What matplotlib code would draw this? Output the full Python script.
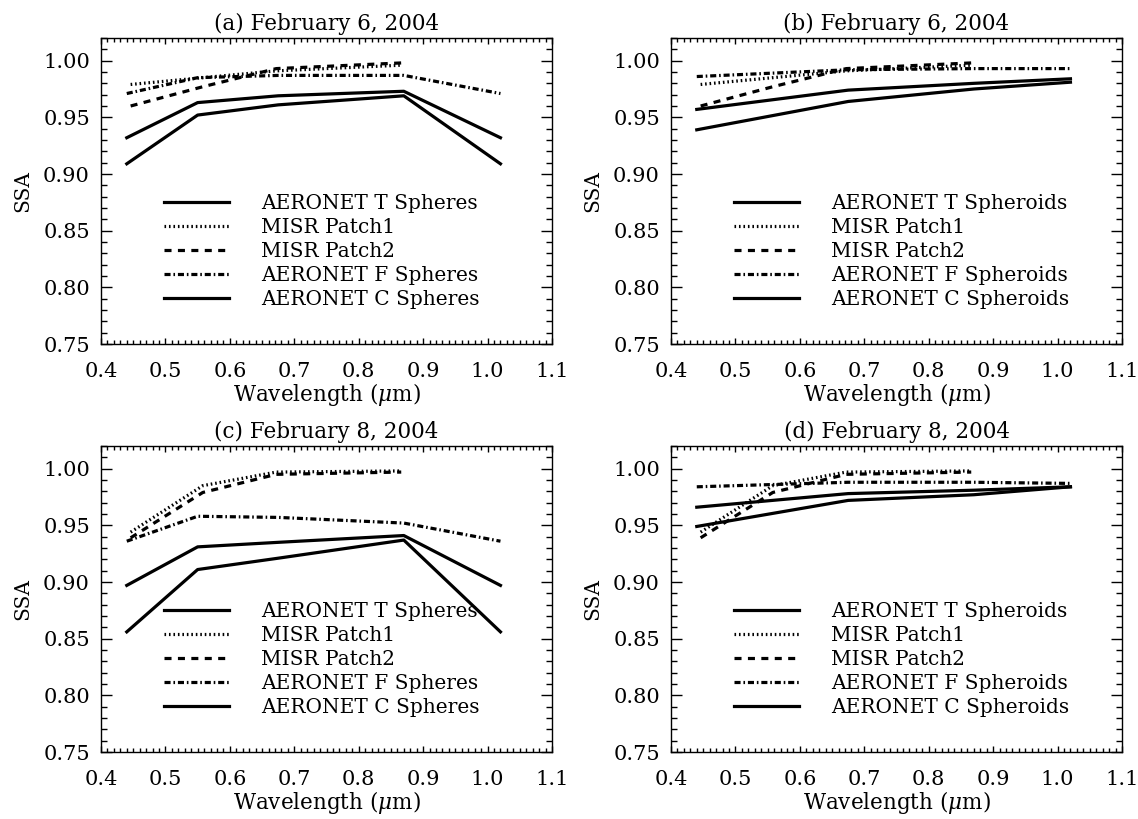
import matplotlib
matplotlib.use("Agg")
import matplotlib.pyplot as plt
from matplotlib.ticker import MultipleLocator

# wavelengths (um)
wl_misr = [0.446, 0.558, 0.672, 0.866]
wl_sph = [0.44, 0.55, 0.675, 0.87, 1.02]
wl_spd = [0.44, 0.675, 0.87, 1.02]

# February 6, 2004
p1_feb6 = [0.979, 0.985, 0.991, 0.996]
p2_feb6 = [0.960, 0.977, 0.993, 0.998]
t_sph_feb6 = [0.932, 0.963, 0.969, 0.973, 0.932]
f_sph_feb6 = [0.971, 0.985, 0.987, 0.987, 0.971]
c_sph_feb6 = [0.909, 0.952, 0.961, 0.969, 0.909]
t_spd_feb6 = [0.957, 0.974, 0.980, 0.984]
f_spd_feb6 = [0.986, 0.992, 0.993, 0.993]
c_spd_feb6 = [0.939, 0.964, 0.975, 0.981]

# February 8, 2004
p1_feb8 = [0.944, 0.985, 0.997, 0.998]
p2_feb8 = [0.939, 0.979, 0.995, 0.997]
t_sph_feb8 = [0.897, 0.931, 0.935, 0.941, 0.897]
f_sph_feb8 = [0.936, 0.958, 0.957, 0.952, 0.936]
c_sph_feb8 = [0.856, 0.911, 0.921, 0.937, 0.856]
t_spd_feb8 = [0.966, 0.978, 0.981, 0.984]
f_spd_feb8 = [0.984, 0.988, 0.988, 0.987]
c_spd_feb8 = [0.949, 0.972, 0.977, 0.984]

titles = ["(a) February 6, 2004", "(b) February 6, 2004",
          "(c) February 8, 2004", "(d) February 8, 2004"]

plt.rcParams['font.family'] = 'DejaVu Serif'
plt.rcParams['mathtext.fontset'] = 'dejavuserif'
FS = 14.5
plt.rcParams['font.size'] = FS

LW = 2.3
DOT = (0, (0.5, 0.9))
DASH = (0, (2.2, 2.0))
DASHDOT = (0, (1.9, 0.9, 0.5, 0.9))


def panel(fig, rect, title, wl_a, t, f, c, p1, p2, kind):
    ax = fig.add_axes(rect)
    lt, = ax.plot(wl_a, t, color='black', lw=LW, ls='-')
    l1, = ax.plot(wl_misr, p1, color='black', lw=LW, ls=DOT)
    l2, = ax.plot(wl_misr, p2, color='black', lw=LW, ls=DASH)
    lf, = ax.plot(wl_a, f, color='black', lw=LW, ls=DASHDOT)
    lc, = ax.plot(wl_a, c, color='black', lw=LW, ls='-')
    labels = ["AERONET T " + kind, "MISR Patch1", "MISR Patch2",
              "AERONET F " + kind, "AERONET C " + kind]
    ax.legend([lt, l1, l2, lf, lc], labels, loc='upper left',
              bbox_to_anchor=(0.14, 0.49), frameon=False, borderaxespad=0,
              borderpad=0, handlelength=3.2, handletextpad=1.6,
              labelspacing=0.25, fontsize=FS)
    ax.set_xlim(0.4, 1.1)
    ax.set_ylim(0.75, 1.02)
    ax.xaxis.set_major_locator(MultipleLocator(0.1))
    ax.xaxis.set_minor_locator(MultipleLocator(0.01))
    ax.yaxis.set_major_locator(MultipleLocator(0.05))
    ax.yaxis.set_minor_locator(MultipleLocator(0.01))
    ax.xaxis.set_major_formatter(lambda v, p: "%.1f" % v)
    ax.yaxis.set_major_formatter(lambda v, p: "%.2f" % v)
    ax.tick_params(which='both', direction='in', top=True, right=True,
                   width=1, labelsize=15)
    ax.tick_params(axis='y', which='major', length=8, pad=8)
    ax.tick_params(axis='y', which='minor', length=4)
    ax.tick_params(axis='x', which='major', length=4, pad=13)
    ax.tick_params(axis='x', which='minor', length=3)
    for s in ax.spines.values():
        s.set_linewidth(1)
    ax.set_xlabel(r"Wavelength ($\mu$m)", fontsize=15.5, labelpad=0)
    ax.set_ylabel("SSA", fontsize=14.5, labelpad=8)
    ax.set_title(title, fontsize=15.5, pad=6)
    return ax


def main():
    fig = plt.figure(figsize=(11.38, 8.19), dpi=100)
    W, H = 1138.0, 819.0
    w = 451 / W
    h = 306 / H
    panel(fig, [101 / W, 1 - 344 / H, w, h], titles[0], wl_sph,
          t_sph_feb6, f_sph_feb6, c_sph_feb6, p1_feb6, p2_feb6, "Spheres")
    panel(fig, [671 / W, 1 - 344 / H, w, h], titles[1], wl_spd,
          t_spd_feb6, f_spd_feb6, c_spd_feb6, p1_feb6, p2_feb6, "Spheroids")
    panel(fig, [101 / W, 1 - 752 / H, w, h], titles[2], wl_sph,
          t_sph_feb8, f_sph_feb8, c_sph_feb8, p1_feb8, p2_feb8, "Spheres")
    panel(fig, [671 / W, 1 - 752 / H, w, h], titles[3], wl_spd,
          t_spd_feb8, f_spd_feb8, c_spd_feb8, p1_feb8, p2_feb8, "Spheroids")
    fig.savefig("out.png", dpi=100)


if __name__ == '__main__':
    main()
